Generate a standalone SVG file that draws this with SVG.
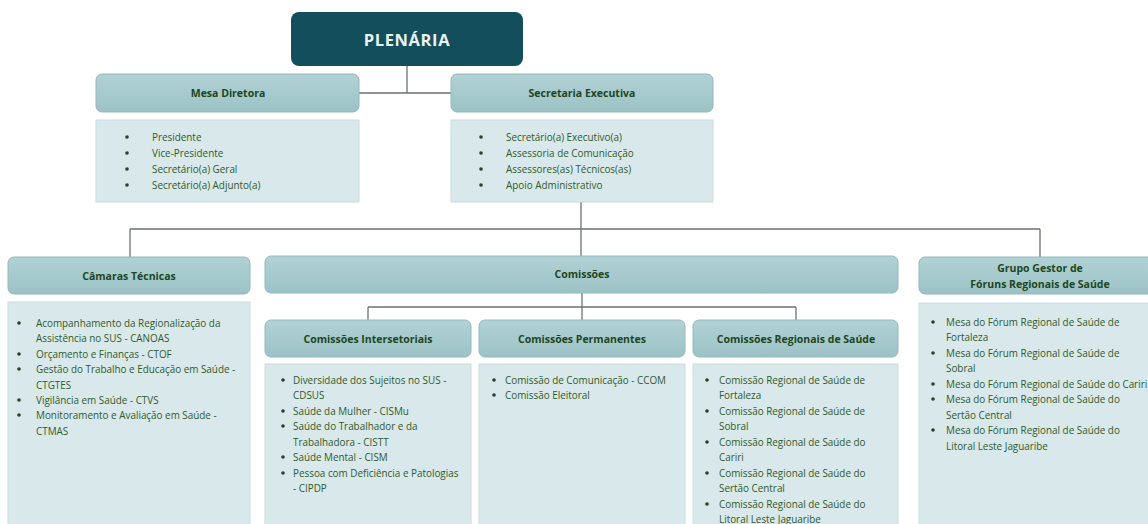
<svg xmlns="http://www.w3.org/2000/svg" width="1148" height="524" viewBox="0 0 1148 524">
<defs>
<linearGradient id="hg" x1="0" y1="0" x2="0" y2="1">
<stop offset="0" stop-color="#b1d2d5"/>
<stop offset="1" stop-color="#9cc2c6"/>
</linearGradient>
<style>
.hdr{fill:url(#hg);stroke:#93b8bc;stroke-width:1}
.box{fill:#d9e8ea;stroke:#c9dde0;stroke-width:1}
.ht{font-family:"Open Sans","Liberation Sans",sans-serif;font-weight:bold;font-size:10.5px;fill:#20461f;text-anchor:middle}
.t{font-family:"Open Sans","Liberation Sans",sans-serif;font-size:9.9px;fill:#2f5a2a}
.b{fill:#26402a}
.ln{stroke:#6c717a;stroke-width:1.3;fill:none}
</style>
</defs>
<rect width="1148" height="524" fill="#ffffff"/>
<g id="connectors">
<path class="ln" d="M407 66V93M359 93H451"/>
<path class="ln" d="M581 202V229M130 229H1040M130 229V257M581 229V256M1040 229V257"/>
<path class="ln" d="M582 293V320M368 307H796M368 307V320M796 307V320"/>
</g>
<g id="plenaria">
<rect x="291" y="12" width="232" height="54" rx="8" fill="#134e5c"/>
<text x="407" y="45.5" font-family="'Open Sans','Liberation Sans',sans-serif" font-weight="bold" font-size="16.5px" letter-spacing="0.6" fill="#eaf2f3" text-anchor="middle">PLENÁRIA</text>
</g>
<g id="mesa-diretora">
<rect class="hdr" x="96" y="74" width="263" height="38" rx="6"/>
<text class="ht" x="228" y="97">Mesa Diretora</text>
<rect class="box" x="96" y="120" width="263" height="82"/>
<g class="b"><circle cx="127" cy="137" r="1.8"/><circle cx="127" cy="153" r="1.8"/><circle cx="127" cy="169" r="1.8"/><circle cx="127" cy="185" r="1.8"/></g>
<text class="t" x="152" y="140.5">Presidente</text>
<text class="t" x="152" y="156.5">Vice-Presidente</text>
<text class="t" x="152" y="172.5">Secretário(a) Geral</text>
<text class="t" x="152" y="188.5">Secretário(a) Adjunto(a)</text>
</g>
<g id="secretaria-executiva">
<rect class="hdr" x="451" y="74" width="262" height="38" rx="6"/>
<text class="ht" x="582" y="97">Secretaria Executiva</text>
<rect class="box" x="451" y="120" width="262" height="82"/>
<g class="b"><circle cx="481" cy="137" r="1.8"/><circle cx="481" cy="153" r="1.8"/><circle cx="481" cy="169" r="1.8"/><circle cx="481" cy="185" r="1.8"/></g>
<text class="t" x="506" y="140.5">Secretário(a) Executivo(a)</text>
<text class="t" x="506" y="156.5">Assessoria de Comunicação</text>
<text class="t" x="506" y="172.5">Assessores(as) Técnicos(as)</text>
<text class="t" x="506" y="188.5">Apoio Administrativo</text>
</g>
<g id="camaras-tecnicas">
<rect class="hdr" x="8" y="257" width="242" height="37" rx="6"/>
<text class="ht" x="129" y="280">Câmaras Técnicas</text>
<rect class="box" x="8" y="302" width="242" height="230"/>
<g class="b"><circle cx="19" cy="323" r="1.8"/><circle cx="19" cy="354" r="1.8"/><circle cx="19" cy="369" r="1.8"/><circle cx="19" cy="400" r="1.8"/><circle cx="19" cy="415" r="1.8"/></g>
<text class="t" x="36" y="326.5">Acompanhamento da Regionalização da</text>
<text class="t" x="36" y="341.5">Assistência no SUS - CANOAS</text>
<text class="t" x="36" y="357.5">Orçamento e Finanças - CTOF</text>
<text class="t" x="36" y="372.5">Gestão do Trabalho e Educação em Saúde -</text>
<text class="t" x="36" y="388.5">CTGTES</text>
<text class="t" x="36" y="403.5">Vigilância em Saúde - CTVS</text>
<text class="t" x="36" y="418.5">Monitoramento e Avaliação em Saúde -</text>
<text class="t" x="36" y="434.5">CTMAS</text>
</g>
<g id="comissoes">
<rect class="hdr" x="265" y="256" width="633" height="37" rx="6"/>
<text class="ht" x="582" y="278">Comissões</text>
</g>
<g id="comissoes-intersetoriais">
<rect class="hdr" x="265" y="320" width="206" height="37" rx="6"/>
<text class="ht" x="368" y="343">Comissões Intersetoriais</text>
<rect class="box" x="265" y="364" width="206" height="168"/>
<g class="b"><circle cx="283" cy="380" r="1.8"/><circle cx="283" cy="411" r="1.8"/><circle cx="283" cy="426" r="1.8"/><circle cx="283" cy="457" r="1.8"/><circle cx="283" cy="473" r="1.8"/></g>
<text class="t" x="293" y="383.5">Diversidade dos Sujeitos no SUS -</text>
<text class="t" x="293" y="398.5">CDSUS</text>
<text class="t" x="293" y="414.5">Saúde da Mulher - CISMu</text>
<text class="t" x="293" y="429.5">Saúde do Trabalhador e da</text>
<text class="t" x="293" y="445.5">Trabalhadora - CISTT</text>
<text class="t" x="293" y="460.5">Saúde Mental - CISM</text>
<text class="t" x="293" y="476.5">Pessoa com Deficiência e Patologias</text>
<text class="t" x="293" y="491.5">- CIPDP</text>
</g>
<g id="comissoes-permanentes">
<rect class="hdr" x="479" y="320" width="206" height="37" rx="6"/>
<text class="ht" x="582" y="343">Comissões Permanentes</text>
<rect class="box" x="479" y="364" width="206" height="168"/>
<g class="b"><circle cx="494" cy="380" r="1.8"/><circle cx="494" cy="395" r="1.8"/></g>
<text class="t" x="505" y="383.5">Comissão de Comunicação - CCOM</text>
<text class="t" x="505" y="398.5">Comissão Eleitoral</text>
</g>
<g id="comissoes-regionais">
<rect class="hdr" x="693" y="320" width="205" height="37" rx="6"/>
<text class="ht" x="796" y="343">Comissões Regionais de Saúde</text>
<rect class="box" x="693" y="364" width="205" height="168"/>
<g class="b"><circle cx="707" cy="380" r="1.8"/><circle cx="707" cy="411" r="1.8"/><circle cx="707" cy="442" r="1.8"/><circle cx="707" cy="473" r="1.8"/><circle cx="707" cy="504" r="1.8"/></g>
<text class="t" x="719" y="383.5">Comissão Regional de Saúde de</text>
<text class="t" x="719" y="398.5">Fortaleza</text>
<text class="t" x="719" y="414.5">Comissão Regional de Saúde de</text>
<text class="t" x="719" y="429.5">Sobral</text>
<text class="t" x="719" y="445.5">Comissão Regional de Saúde do</text>
<text class="t" x="719" y="460.5">Cariri</text>
<text class="t" x="719" y="476.5">Comissão Regional de Saúde do</text>
<text class="t" x="719" y="491.5">Sertão Central</text>
<text class="t" x="719" y="507.5">Comissão Regional de Saúde do</text>
<text class="t" x="719" y="522.5">Litoral Leste Jaguaribe</text>
</g>
<g id="grupo-gestor">
<rect class="hdr" x="919" y="257" width="240" height="37" rx="6"/>
<text class="ht" x="1040" y="271.5">Grupo Gestor de</text>
<text class="ht" x="1040" y="287.5">Fóruns Regionais de Saúde</text>
<rect class="box" x="919" y="303" width="240" height="230"/>
<g class="b"><circle cx="933" cy="322" r="1.8"/><circle cx="933" cy="353" r="1.8"/><circle cx="933" cy="384" r="1.8"/><circle cx="933" cy="399" r="1.8"/><circle cx="933" cy="430" r="1.8"/></g>
<text class="t" x="946" y="325.5">Mesa do Fórum Regional de Saúde de</text>
<text class="t" x="946" y="340.5">Fortaleza</text>
<text class="t" x="946" y="356.5">Mesa do Fórum Regional de Saúde de</text>
<text class="t" x="946" y="371.5">Sobral</text>
<text class="t" x="946" y="387.5">Mesa do Fórum Regional de Saúde do Cariri</text>
<text class="t" x="946" y="402.5">Mesa do Fórum Regional de Saúde do</text>
<text class="t" x="946" y="418.5">Sertão Central</text>
<text class="t" x="946" y="433.5">Mesa do Fórum Regional de Saúde do</text>
<text class="t" x="946" y="449.5">Litoral Leste Jaguaribe</text>
</g>
</svg>
